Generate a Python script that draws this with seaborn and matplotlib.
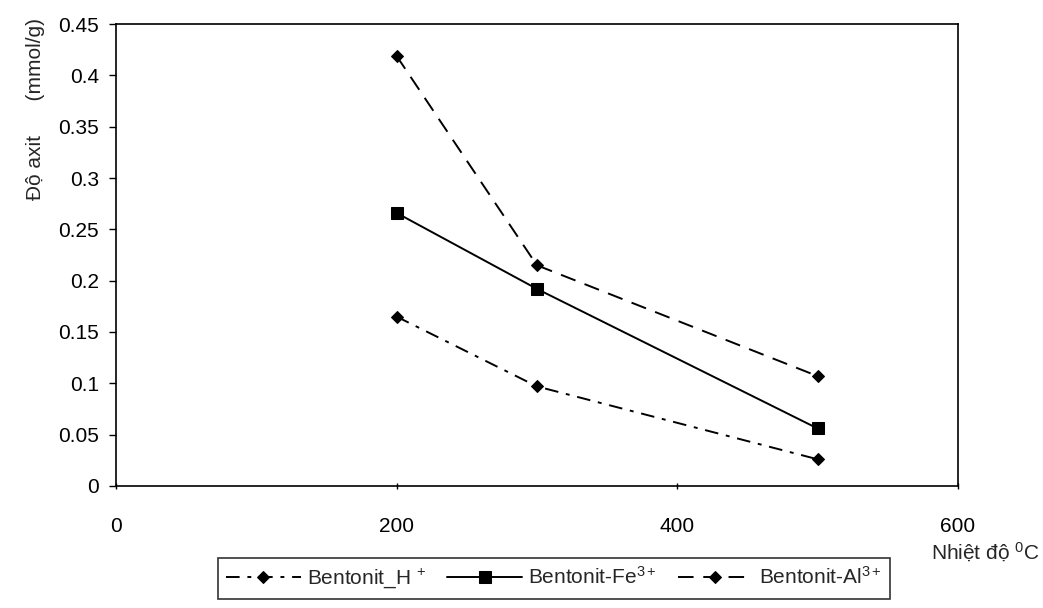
import matplotlib
matplotlib.use('Agg')
import matplotlib.pyplot as plt
import pandas as pd
import seaborn as sns

# du lieu doc tu hinh
nhiet_do = [200, 300, 500]
h_plus = [0.165, 0.097, 0.026]
fe3 = [0.266, 0.192, 0.056]
al3 = [0.419, 0.215, 0.107]

nhan = [r'Bentonit_H $^{+}$', r'Bentonit-Fe$^{3+}$', r'Bentonit-Al$^{3+}$']
x_ticks = [0, 200, 400, 600]
y_ticks = [0, 0.05, 0.1, 0.15, 0.2, 0.25, 0.3, 0.35, 0.4, 0.45]
y_nhan = ['0', '0.05', '0.1', '0.15', '0.2', '0.25', '0.3', '0.35', '0.4', '0.45']

sns.set_theme(style='white')
plt.rcParams['font.family'] = ['Liberation Sans', 'DejaVu Sans']
plt.rcParams['mathtext.fontset'] = 'custom'
plt.rcParams['mathtext.rm'] = 'Liberation Sans'
plt.rcParams['mathtext.it'] = 'Liberation Sans'

fig = plt.figure(figsize=(10.43, 6.08), dpi=100)
ax = fig.add_axes([0.111, 0.2007, 0.8075, 0.7598])

kieu = [
    dict(marker='D', markersize=6, linestyle=(0, (7, 4, 2, 4))),
    dict(marker='s', markersize=9, linestyle='-'),
    dict(marker='D', markersize=6, linestyle=(0, (8, 5))),
]
for vals, lab, kw in zip([h_plus, fe3, al3], nhan, kieu):
    df = pd.DataFrame({'x': nhiet_do, 'y': vals})
    sns.lineplot(data=df, x='x', y='y', ax=ax, color='black', linewidth=1.4,
                 markeredgecolor='black', label=lab, **kw)

ax.set_xlim(0, 600)
ax.set_ylim(0, 0.45)
ax.set_xticks(x_ticks)
ax.set_yticks(y_ticks)
ax.set_yticklabels(y_nhan)
ax.tick_params(axis='both', labelsize=15, colors='black', length=5, width=1)
ax.tick_params(axis='y', direction='out', left=True, pad=7)
ax.tick_params(axis='x', direction='inout', bottom=True, pad=20)
for s in ax.spines.values():
    s.set_color('black')
    s.set_linewidth(1.2)
ax.set_xlabel('')
ax.set_ylabel('')

fig.text(0.034, 0.82, 'Độ axit      (mmol/g)', rotation=90, ha='center', va='center', fontsize=15)
fig.text(0.997, 0.092, r'Nhiệt độ $^{0}$C', ha='right', va='center', fontsize=15)

leg = ax.legend(loc='center', bbox_to_anchor=(0.531, 0.049), bbox_transform=fig.transFigure,
                ncol=3, frameon=True, fancybox=False, fontsize=15, handlelength=3.6,
                columnspacing=1.0, handletextpad=0.3, borderpad=0.4)
leg.get_frame().set_edgecolor('black')
leg.get_frame().set_linewidth(1.2)

fig.savefig('out.png', dpi=100)
